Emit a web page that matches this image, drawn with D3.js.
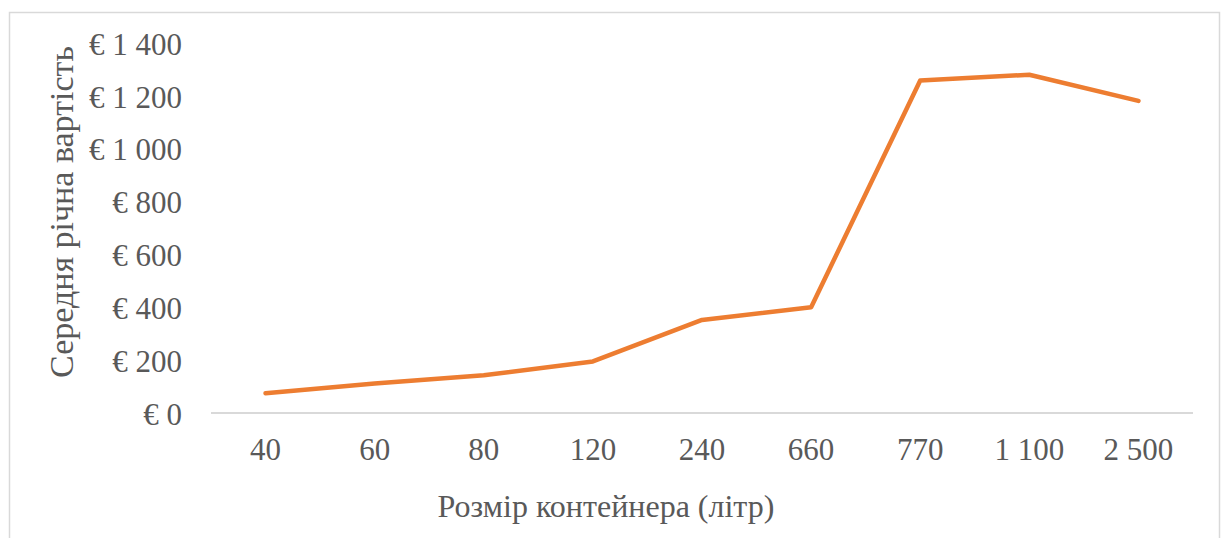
<!DOCTYPE html>
<html>
<head>
<meta charset="utf-8">
<script src="https://cdn.jsdelivr.net/npm/d3@7"></script>
<style>
  html, body { margin: 0; padding: 0; background: #fff; }
  svg { display: block; }
  text { font-family: "Liberation Serif", "Times New Roman", serif; fill: #595959; }
</style>
</head>
<body>
<svg id="chart" width="1227" height="538"></svg>
<script>
const categories = ["40", "60", "80", "120", "240", "660", "770", "1 100", "2 500"];
const values = [75, 112, 143, 195, 352, 400, 1258, 1280, 1181];
const yTicks = [0, 200, 400, 600, 800, 1000, 1200, 1400];
const yTitle = "Середня річна вартість";
const xTitle = "Розмір контейнера (літр)";

const svg = d3.select("#chart");
const plot = { left: 211, right: 1193, top: 43, bottom: 413 };

// outer border (chart area)
svg.append("rect")
  .attr("x", 9.5).attr("y", 12.5)
  .attr("width", 1210).attr("height", 540)
  .attr("fill", "none").attr("stroke", "#d9d9d9").attr("stroke-width", 1.5);

const x = d3.scaleBand().domain(categories).range([plot.left, plot.right]).padding(0);
const y = d3.scaleLinear().domain([0, 1400]).range([plot.bottom, plot.top]);

const fmt = v => "€ " + (v >= 1000 ? Math.floor(v / 1000) + " " + String(v % 1000).padStart(3, "0") : String(v));

// y axis labels
const yAxis = d3.axisLeft(y).tickValues(yTicks).tickFormat(fmt).tickSize(0).tickPadding(0);
const gy = svg.append("g").attr("transform", `translate(${182},0)`).call(yAxis);
gy.select(".domain").remove();
gy.selectAll("text")
  .style("font-family", '"Liberation Serif", serif')
  .style("font-size", "31px").attr("fill", "#595959")
  .attr("dy", "0.36em");

// x axis
const xAxis = d3.axisBottom(x).tickSize(0).tickPadding(0);
const gx = svg.append("g").attr("transform", `translate(0,${plot.bottom})`).call(xAxis);
gx.select(".domain").attr("stroke", "#d9d9d9").attr("stroke-width", 2)
  .attr("d", `M${plot.left},0H${plot.right}`);
gx.selectAll("text")
  .style("font-family", '"Liberation Serif", serif')
  .style("font-size", "31px").attr("fill", "#595959")
  .attr("y", 47).attr("dy", 0);

// line
const line = d3.line()
  .x((d, i) => x(categories[i]) + x.bandwidth() / 2)
  .y(d => y(d));
svg.append("path").datum(values)
  .attr("d", line)
  .attr("fill", "none")
  .attr("stroke", "#ed7d31")
  .attr("stroke-width", 4.5)
  .attr("stroke-linejoin", "round")
  .attr("stroke-linecap", "round");

// titles
svg.append("text")
  .attr("x", 606).attr("y", 517)
  .attr("text-anchor", "middle")
  .style("font-size", "32px")
  .text(xTitle);

svg.append("text")
  .attr("transform", "translate(73,212) rotate(-90)")
  .attr("text-anchor", "middle")
  .style("font-size", "34px")
  .text(yTitle);
</script>
</body>
</html>
